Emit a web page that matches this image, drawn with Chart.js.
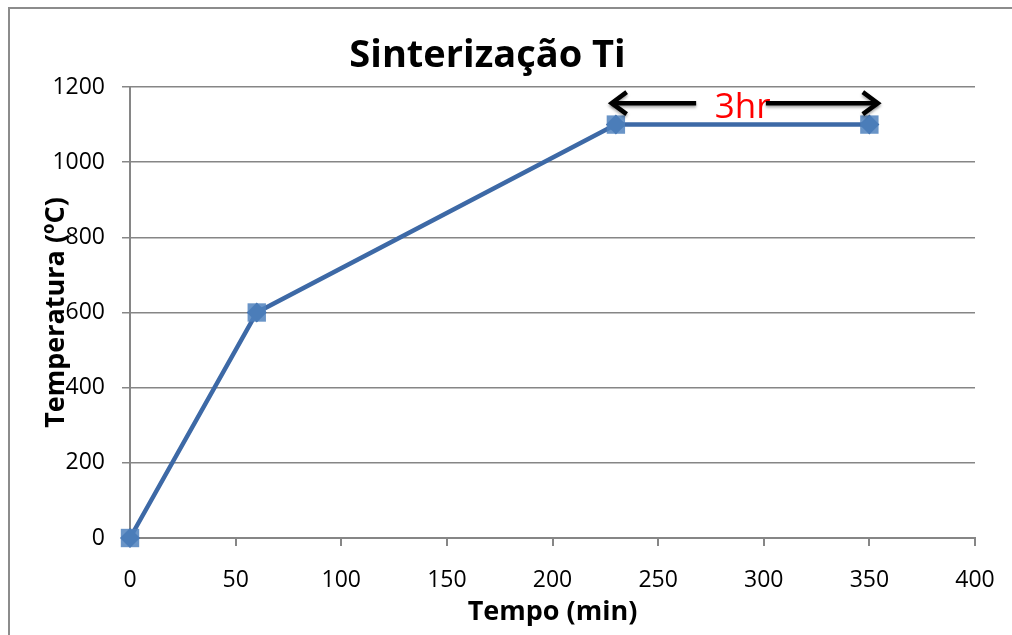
<!DOCTYPE html>
<html>
<head>
<meta charset="utf-8">
<script src="https://cdn.jsdelivr.net/npm/chart.js@4.4.1/dist/chart.umd.min.js"></script>
<style>
  html, body { margin: 0; padding: 0; background: #fff; overflow: hidden; }
  #wrap { width: 1012px; height: 635px; position: relative; }
</style>
</head>
<body>
<div id="wrap"><canvas id="sinterChart"></canvas></div>
<script>
// data
const tempo = [0, 60, 230, 350];          // min
const temperatura = [0, 600, 1100, 1100]; // ºC
const xTicks = [0, 50, 100, 150, 200, 250, 300, 350, 400];
const yTicks = [0, 200, 400, 600, 800, 1000, 1200];

// "3hr" annotation (data units)
const arrowY = 1157;
const arrowLeft = [228, 268];   // head at first value
const arrowRight = [301, 354];  // head at last value
const labelPos = [290, 1144];
const labelText = "3hr";

const points = tempo.map((t, i) => ({ x: t, y: temperatura[i] }));
const FONT = "'Open Sans'";

// frame (top + left edges only, the rest is cut off) + the arrow annotation
const extras = {
  id: "extras",
  beforeDraw(chart) {
    const c = chart.ctx;
    c.save();
    c.strokeStyle = "#8c8c8c";
    c.lineWidth = 2;
    c.beginPath();
    c.moveTo(9, chart.height);
    c.lineTo(9, 8);
    c.lineTo(chart.width, 8);
    c.stroke();
    c.restore();
  },
  afterDatasetsDraw(chart) {
    const c = chart.ctx;
    const xs = chart.scales.x, ys = chart.scales.y;
    const y = ys.getPixelForValue(arrowY);

    c.save();
    // label first, arrows go over it
    c.fillStyle = "#ff0000";
    c.font = "35px " + FONT;
    c.textAlign = "center";
    c.textBaseline = "middle";
    c.fillText(labelText, xs.getPixelForValue(labelPos[0]), ys.getPixelForValue(labelPos[1]));

    function arrow(fromV, toV) {
      const x1 = xs.getPixelForValue(fromV), x2 = xs.getPixelForValue(toV);
      const dir = x2 > x1 ? 1 : -1;
      c.strokeStyle = "#000";
      c.lineWidth = 4.5;
      c.lineCap = "butt";
      c.shadowColor = "rgba(0,0,0,0.35)";
      c.shadowBlur = 3;
      c.shadowOffsetY = 2;
      c.beginPath();
      c.moveTo(x1, y);
      c.lineTo(x2, y);
      c.stroke();
      c.beginPath();
      c.moveTo(x2 - dir * 15, y - 11);
      c.lineTo(x2, y);
      c.lineTo(x2 - dir * 15, y + 11);
      c.stroke();
    }
    arrow(arrowLeft[1], arrowLeft[0]);
    arrow(arrowRight[0], arrowRight[1]);
    c.restore();
  }
};

new Chart(document.getElementById("sinterChart"), {
  type: "scatter",
  data: {
    datasets: [
      {
        label: "quadrado",
        data: points,
        showLine: false,
        clip: false,
        pointStyle: "rect",
        pointRadius: 13,
        backgroundColor: "rgba(79,129,189,0.85)",
        borderColor: "rgba(79,129,189,0.85)",
        borderWidth: 0,
      },
      {
        label: "Temperatura",
        data: points,
        showLine: true,
        clip: false,
        borderColor: "#3d69a6",
        borderWidth: 4.5,
        pointStyle: "rectRot",
        pointRadius: 10,
        backgroundColor: "#3b66a3",
        pointBorderWidth: 0,
      },
    ],
  },
  options: {
    responsive: true,
    maintainAspectRatio: false,
    animation: false,
    layout: { padding: { left: 0, right: 37, top: 0, bottom: 0 } },
    plugins: {
      legend: { display: false },
      tooltip: { enabled: false },
      title: {
        display: true,
        text: "Sinterização Ti",
        color: "#000",
        font: { family: FONT, size: 38, weight: "bold", lineHeight: 1.2 },
        padding: { top: 33, bottom: 8.4 },
      },
    },
    scales: {
      x: {
        type: "linear",
        min: 0,
        max: 400,
        afterBuildTicks: (s) => { s.ticks = xTicks.map((v) => ({ value: v })); },
        afterFit: (s) => { s.height = 97; s.paddingRight = 0; s.paddingLeft = 0; },
        grid: { display: true, drawOnChartArea: false, color: "#868686", lineWidth: 2, tickLength: 8 },
        border: { color: "#868686", width: 2 },
        ticks: { color: "#000", font: { family: FONT, size: 23 }, padding: 21, callback: (v) => String(v) },
        title: {
          display: true,
          text: "Tempo (min)",
          color: "#000",
          font: { family: FONT, size: 27, weight: "bold", lineHeight: 1.2 },
          padding: { top: 0, bottom: 6 },
        },
      },
      y: {
        type: "linear",
        min: 0,
        max: 1200,
        afterBuildTicks: (s) => { s.ticks = yTicks.map((v) => ({ value: v })); },
        afterFit: (s) => { s.width = 130; },
        grid: { color: "#868686", lineWidth: 1.5, tickLength: 8, drawTicks: true },
        border: { color: "#868686", width: 2 },
        ticks: { color: "#000", font: { family: FONT, size: 23 }, padding: 17, callback: (v) => String(v) },
        title: {
          display: true,
          text: "Temperatura (ºC)",
          color: "#000",
          font: { family: FONT, size: 27, weight: "bold", lineHeight: 1.2 },
          padding: { top: 40, bottom: 0 },
        },
      },
    },
  },
  plugins: [extras],
});
</script>
</body>
</html>
